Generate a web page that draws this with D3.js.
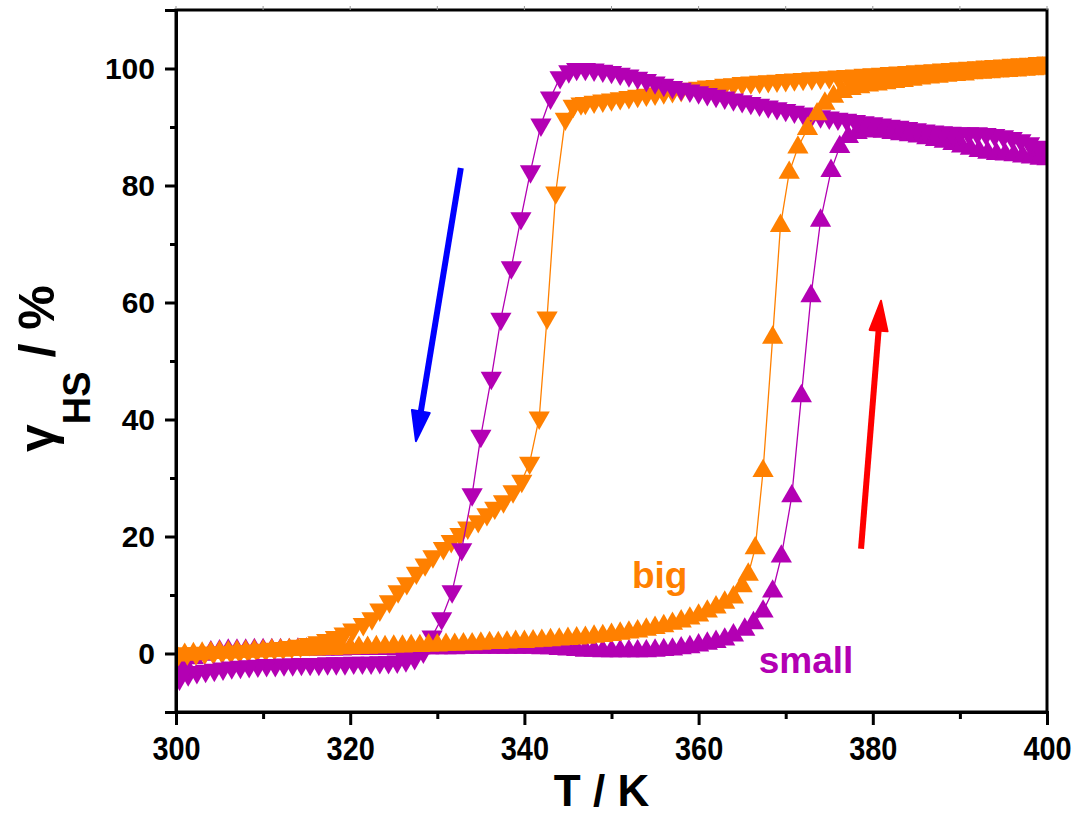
<!DOCTYPE html>
<html><head><meta charset="utf-8">
<script src="https://cdn.jsdelivr.net/npm/d3@7"></script>
<style>
body{margin:0;background:#fff}
svg{display:block}
text{font-family:Arial,'Liberation Sans',sans-serif;font-weight:bold}
</style>
</head><body>
<svg id="chart" width="1076" height="820"></svg>
<script>
// ---------- data ----------
const xMajorTicks = [300, 320, 340, 360, 380, 400];
const xMinorTicks = [310, 330, 350, 370, 390];
const yMajorTicks = [0, 20, 40, 60, 80, 100];
const yMinorTicks = [-10, 10, 30, 50, 70, 90, 110];

// small particles, heating (up triangles)
const smallHeat = [[300,-3.2],[301,-1.8],[302,-0.8],[303,-0.2],[304,0.2],[305,0.4],[306,0.5],[307,0.5],[308,0.5],[309,0.6],[310,0.6],[311,0.6],[312,0.6],[313,0.6],[314,0.7],[315,0.7],[316,0.7],[317,0.7],[318,0.7],[319,0.7],[320,0.8],[321,0.8],[322,0.8],[323,0.8],[324,0.8],[325,0.8],[326,0.8],[327,0.9],[328,0.9],[329,0.9],[330,0.9],[331,0.9],[332,0.9],[333,1.0],[334,1.0],[335,1.0],[336,1.0],[337,1.0],[338,1.0],[339,1.0],[340,1.0],[341,1.0],[342,0.9],[343,0.9],[344,0.8],[345,0.7],[346,0.6],[347,0.5],[348,0.5],[349,0.4],[350,0.4],[351,0.4],[352,0.4],[353,0.4],[354,0.4],[355,0.5],[356,0.6],[357,0.7],[358,0.9],[359,1.1],[360,1.4],[361,1.7],[362,2.0],[363,2.4],[364,3.1],[365.3,4.1],[366.3,5.2],[367.4,7.2],[368.5,10.6],[369.5,16.6],[370.7,26.9],[371.8,44.0],[372.9,61.1],[374.0,74.0],[375.2,82.5],[376.2,86.6],[377.2,88.3],[378.2,89.0],[379.2,89.3],[380.2,89.3],[381.2,89.2],[382.2,89.0],[383.2,88.8],[384.2,88.6],[385.2,88.4],[386.2,88.1],[387.2,87.8],[388.2,87.5],[389.2,87.1],[390.2,86.7],[391.2,86.3],[392.2,85.9],[393.2,85.6],[394.2,85.4],[395.2,85.3],[396.2,85.2],[397.2,85.0],[398.2,84.8],[399.2,84.6],[400,84.5]];

// small particles, cooling (down triangles)
const smallCool = [[400,86.0],[399,86.6],[398,87.2],[397,87.7],[396,88.1],[395,88.4],[394,88.6],[393,88.8],[392,88.9],[391,88.9],[390,88.9],[389,89.0],[388,89.1],[387,89.2],[386,89.4],[385,89.6],[384,89.8],[383,90.0],[382,90.2],[381,90.4],[380,90.6],[379,90.8],[378,91.0],[377,91.2],[376,91.4],[375,91.6],[374,91.8],[373,92.0],[372,92.3],[371,92.6],[370,92.9],[369,93.2],[368,93.5],[367,93.8],[366,94.1],[365,94.4],[364,94.7],[363,95.0],[362,95.3],[361,95.6],[360,95.9],[359,96.2],[358,96.5],[357,96.8],[356,97.2],[355,97.6],[354,98.0],[353,98.4],[352,98.8],[351,99.1],[350,99.4],[349,99.6],[348,99.8],[347,99.9],[346,99.9],[345.1,99.5],[344.1,98.5],[343.0,95.0],[341.9,90.4],[340.7,82.4],[339.6,74.4],[338.5,66.0],[337.3,57.2],[336.2,47.1],[335.0,37.2],[334.0,27.2],[332.8,17.8],[331.7,10.6],[330.5,6.0],[329.4,2.9],[328.4,0.3],[327.4,-0.8],[326.4,-1.2],[325.4,-1.4],[324.4,-1.5],[323.4,-1.5],[322.4,-1.6],[321.4,-1.6],[320.4,-1.6],[319.4,-1.7],[318.4,-1.7],[317.4,-1.7],[316.4,-1.8],[315.4,-1.8],[314.4,-1.8],[313.4,-1.9],[312.4,-1.9],[311.4,-2.0],[310.4,-2.0],[309.4,-2.1],[308.4,-2.2],[307.4,-2.3],[306.4,-2.4],[305.4,-2.6],[304.4,-2.8],[303.4,-3.0],[302.4,-3.2],[301.4,-3.6],[300.4,-4.3]];

// big particles, cooling (down triangles)
const bigCool = [[400,101.0],[399,100.9],[398,100.8],[397,100.7],[396,100.6],[395,100.5],[394,100.4],[393,100.3],[392,100.2],[391,100.1],[390,100.0],[389,99.9],[388,99.8],[387,99.7],[386,99.6],[385,99.5],[384,99.4],[383,99.3],[382,99.2],[381,99.1],[380,99.0],[379,98.9],[378,98.8],[377,98.7],[376,98.6],[375,98.5],[374,98.4],[373,98.3],[372,98.2],[371,98.1],[370,98.0],[369,97.9],[368,97.8],[367,97.7],[366,97.6],[365,97.5],[364,97.3],[363,97.2],[362,97.0],[361,96.9],[360,96.7],[359,96.5],[358,96.3],[357,96.1],[356,95.9],[355,95.7],[354,95.5],[353,95.3],[352,95.1],[351,94.9],[350,94.7],[349,94.5],[348,94.3],[347,94.1],[346.5,94.0],[345.6,93.6],[344.7,91.4],[343.6,78.8],[342.6,57.4],[341.7,40.3],[340.6,32.6],[339.7,29.5],[338.7,27.7],[337.6,26.0],[336.6,24.9],[335.7,23.8],[334.7,22.6],[333.5,21.5],[332.6,20.4],[331.6,19.2],[330.7,18.0],[329.5,16.6],[328.6,15.2],[327.6,13.8],[326.5,12.0],[325.5,10.6],[324.5,8.9],[323.4,7.5],[322.5,6.0],[321.5,5.0],[320.3,4.1],[319.3,3.4],[318.3,2.8],[317.3,2.3],[316.3,1.9],[315.3,1.6],[314.3,1.3],[313.3,1.1],[312.3,0.9],[311.3,0.8],[310.3,0.6],[309.3,0.5],[308.3,0.4],[307.3,0.3],[306.3,0.2],[305.3,0.2],[304.3,0.1],[303.3,0.1],[302.3,0.0],[301.3,0.0],[300.3,-0.1]];

// big particles, heating (up triangles)
const bigHeat = [[300,-0.3],[301,-0.2],[302,-0.1],[303,0.0],[304,0.1],[305,0.2],[306,0.2],[307,0.3],[308,0.3],[309,0.4],[310,0.4],[311,0.5],[312,0.5],[313,0.6],[314,0.6],[315,0.7],[316,0.7],[317,0.8],[318,0.8],[319,0.9],[320,0.9],[321,1.0],[322,1.0],[323,1.1],[324,1.1],[325,1.2],[326,1.2],[327,1.3],[328,1.3],[329,1.4],[330,1.4],[331,1.5],[332,1.5],[333,1.6],[334,1.6],[335,1.7],[336,1.8],[337,1.8],[338,1.9],[339,2.0],[340,2.0],[341,2.1],[342,2.2],[343,2.3],[344,2.4],[345,2.5],[346,2.6],[347,2.7],[348,2.9],[349,3.0],[350,3.2],[351,3.4],[352,3.6],[353,3.8],[354,4.1],[355,4.4],[356,4.7],[357,5.1],[358,5.5],[359,6.0],[360,6.5],[361,7.2],[362,7.9],[363,8.7],[364,9.6],[365,11.5],[365.7,13.5],[366.5,18.0],[367.4,31.2],[368.5,54.0],[369.4,73.1],[370.4,82.2],[371.4,86.5],[372.5,89.7],[373.6,92.2],[374.5,94.0],[375.5,95.2],[376.5,96.0],[377.5,96.5],[378.5,96.8],[379.5,97.1],[380.5,97.3],[381.5,97.5],[382.5,97.7],[383.5,97.9],[384.5,98.1],[385.5,98.3],[386.5,98.5],[387.5,98.6],[388.5,98.8],[389.5,98.9],[390.5,99.0],[391.5,99.2],[392.5,99.3],[393.5,99.4],[394.5,99.5],[395.5,99.6],[396.5,99.7],[397.5,99.8],[398.5,99.9],[399.5,100.0]];

// annotation arrows (tail, tip) and labels in data units
const coolArrow = [[332.7, 83.0], [327.55, 36.3]];
const heatArrow = [[378.65, 17.9], [380.94, 60.3]];
const labelBig = {text: "big", T: 352.35, v: 11.2};
const labelSmall = {text: "small", T: 366.9, v: -3.3};

// ---------- drawing ----------
const W = 1076, H = 820;
const m = {left: 176, right: 29, top: 10, bottom: 108};
const MAG = "#B300B3", ORG = "#FF8000";
const svg = d3.select("#chart");
const x = d3.scaleLinear().domain([300, 400]).range([m.left, W - m.right]);
const y = d3.scaleLinear().domain([-10, 110]).range([H - m.bottom, m.top]);

svg.append("defs").append("clipPath").attr("id", "clip")
  .append("rect").attr("x", m.left).attr("y", m.top)
  .attr("width", W - m.left - m.right).attr("height", H - m.top - m.bottom);

const plot = svg.append("g").attr("clip-path", "url(#clip)");
const line = d3.line().x(d => x(d[0])).y(d => y(d[1]));
const tri = d3.symbol().type(d3.symbolTriangle).size(195);

function series(data, color, down) {
  const g = plot.append("g");
  g.append("path").datum(data).attr("d", line)
    .attr("fill", "none").attr("stroke", color).attr("stroke-width", 1.3);
  g.selectAll("path.m").data(data).join("path").attr("class", "m")
    .attr("d", tri)
    .attr("transform", d => `translate(${x(d[0])},${y(d[1])})${down ? " rotate(180)" : ""}`)
    .attr("fill", color);
}
series(smallHeat, MAG, false);
series(bigCool, ORG, true);
series(smallCool, MAG, true);
series(bigHeat, ORG, false);

// frame
svg.append("rect").attr("x", m.left).attr("y", m.top)
  .attr("width", W - m.left - m.right).attr("height", H - m.top - m.bottom)
  .attr("fill", "none").attr("stroke", "#000").attr("stroke-width", 3);

// small top ticks
svg.append("g").selectAll("line").data(xMajorTicks.concat(xMinorTicks)).join("line")
  .attr("x1", d => x(d)).attr("x2", d => x(d))
  .attr("y1", m.top - 4).attr("y2", m.top)
  .attr("stroke", "#999").attr("stroke-width", 1);

function styleAxis(g) {
  g.select(".domain").attr("stroke-width", 3);
  g.selectAll(".tick line").attr("stroke-width", 3);
  g.selectAll("text").attr("fill", "#000");
}
// x axis
const xAxisG = svg.append("g").attr("transform", `translate(0,${H - m.bottom})`)
  .call(d3.axisBottom(x).tickValues(xMajorTicks).tickSize(13).tickPadding(11).tickFormat(d3.format("d")))
  .call(styleAxis);
xAxisG.selectAll("text").attr("font-size", 34).attr("transform", "scale(0.85,1)")
  .attr("font-family", "Arial,'Liberation Sans',sans-serif").attr("font-weight", "bold");
svg.append("g").attr("transform", `translate(0,${H - m.bottom})`)
  .call(d3.axisBottom(x).tickValues(xMinorTicks).tickSize(7).tickFormat(""))
  .call(styleAxis).select(".domain").remove();

// y axis
const yAxisG = svg.append("g").attr("transform", `translate(${m.left},0)`)
  .call(d3.axisLeft(y).tickValues(yMajorTicks).tickSize(11).tickPadding(10).tickFormat(d3.format("d")))
  .call(styleAxis);
yAxisG.selectAll("text").attr("font-size", 30).attr("font-family", "Arial,'Liberation Sans',sans-serif").attr("font-weight", "bold");
svg.append("g").attr("transform", `translate(${m.left},0)`)
  .call(d3.axisLeft(y).tickValues(yMinorTicks).tickSize(6).tickFormat(""))
  .call(styleAxis).select(".domain").remove();

// axis titles
svg.append("text").attr("x", (m.left + W - m.right) / 2 - 10).attr("y", 806)
  .attr("text-anchor", "middle").attr("font-size", 44).text("T / K");
const yt = svg.append("text").attr("transform", "translate(54,452) rotate(-90)")
  .attr("font-size", 50);
yt.append("tspan").text("γ");
yt.append("tspan").attr("font-size", 38).attr("dy", 36).text("HS");
yt.append("tspan").attr("dy", -36).text(" / %");

// arrows
function arrow(pts, color) {
  const x0 = x(pts[0][0]), y0 = y(pts[0][1]), x1 = x(pts[1][0]), y1 = y(pts[1][1]);
  const len = Math.hypot(x1 - x0, y1 - y0), ux = (x1 - x0) / len, uy = (y1 - y0) / len;
  const hl = 30, hw = 9;
  const bx = x1 - ux * hl, by = y1 - uy * hl;
  svg.append("line").attr("x1", x0).attr("y1", y0).attr("x2", bx + ux * 4).attr("y2", by + uy * 4)
    .attr("stroke", color).attr("stroke-width", 6);
  svg.append("path").attr("d", `M${x1},${y1}L${bx - uy * hw},${by + ux * hw}L${bx + uy * hw},${by - ux * hw}Z`)
    .attr("fill", color).attr("stroke", color).attr("stroke-width", 2).attr("stroke-linejoin", "round");
}
arrow(coolArrow, "#0000FF");
arrow(heatArrow, "#FF0000");

// labels
svg.append("text").attr("x", x(labelBig.T)).attr("y", y(labelBig.v))
  .attr("font-size", 37).attr("fill", ORG).text(labelBig.text);
svg.append("text").attr("x", x(labelSmall.T)).attr("y", y(labelSmall.v))
  .attr("font-size", 37).attr("fill", MAG).text(labelSmall.text);
</script>
</body></html>
